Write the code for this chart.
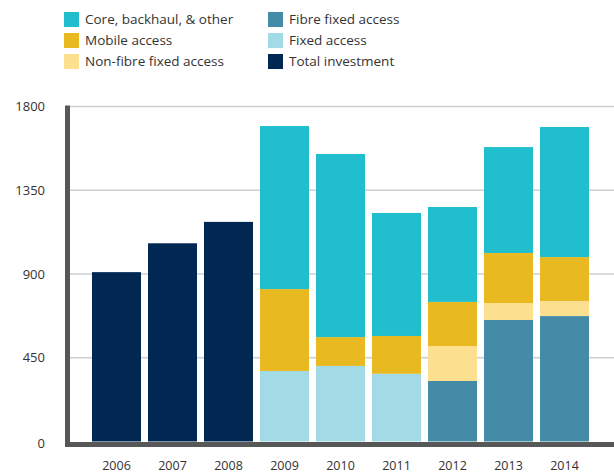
<!DOCTYPE html>
<html>
<head>
<meta charset="utf-8">
<script src="https://cdn.jsdelivr.net/npm/d3@7"></script>
<style>
  body { margin: 0; background: #fff; }
  svg text { font-family: "Open Sans", Roboto, sans-serif; fill: #333; }
</style>
</head>
<body>
<svg></svg>
<script>
// chart data
var years = ['2006', '2007', '2008', '2009', '2010', '2011', '2012', '2013', '2014'];
var total_investment = [910, 1065, 1180, 0, 0, 0, 0, 0, 0];
var fixed_access = [0, 0, 0, 379, 406, 364, 0, 0, 0];
var fibre_fixed_access = [0, 0, 0, 0, 0, 0, 325, 653, 674];
var non_fibre_fixed_access = [0, 0, 0, 0, 0, 0, 188, 91, 81];
var mobile_access = [0, 0, 0, 440, 155, 203, 237, 269, 236];
var core_backhaul_other = [0, 0, 0, 876, 984, 661, 510, 569, 699];
var y_ticks = [0, 450, 900, 1350, 1800];

var series = [
  { key: 'total', name: 'Total investment', values: total_investment, color: '#002852' },
  { key: 'fixed', name: 'Fixed access', values: fixed_access, color: '#a2dbe5' },
  { key: 'fibre', name: 'Fibre fixed access', values: fibre_fixed_access, color: '#438ba7' },
  { key: 'nonfibre', name: 'Non-fibre fixed access', values: non_fibre_fixed_access, color: '#fde08f' },
  { key: 'mobile', name: 'Mobile access', values: mobile_access, color: '#e8b920' },
  { key: 'core', name: 'Core, backhaul, & other', values: core_backhaul_other, color: '#21bece' }
];

// legend order in two columns
var legend_items = ['core', 'mobile', 'nonfibre', 'fibre', 'fixed', 'total'];

var svg_width = 614,
  svg_height = 474;

var svg = d3
  .select('svg')
  .attr('width', svg_width)
  .attr('height', svg_height);

var rows = years.map(function(y, i) {
  var row = { year: y };
  series.forEach(function(s) {
    row[s.key] = s.values[i];
  });
  return row;
});

var stack = d3.stack().keys(series.map(function(s) { return s.key; }));
var stacked = stack(rows);

var x = d3
  .scaleBand()
  .domain(years)
  .range([88.5, 592.5])
  .paddingInner(0.125)
  .paddingOuter(0.0625);

var y = d3
  .scaleLinear()
  .domain([0, 1800])
  .range([441.5, 106.5]);

// gridlines
svg
  .append('g')
  .selectAll('line')
  .data(y_ticks.slice(1))
  .enter()
  .append('line')
  .attr('x1', 70)
  .attr('x2', svg_width)
  .attr('y1', function(d) { return y(d); })
  .attr('y2', function(d) { return y(d); })
  .attr('stroke', '#cfcfcf')
  .attr('stroke-width', 1.5);

// bars
var color_of = {};
series.forEach(function(s) { color_of[s.key] = s.color; });

svg
  .append('g')
  .selectAll('g')
  .data(stacked)
  .enter()
  .append('g')
  .attr('fill', function(d) { return color_of[d.key]; })
  .selectAll('rect')
  .data(function(d) { return d; })
  .enter()
  .filter(function(d) { return d[1] - d[0] > 0; })
  .append('rect')
  .attr('x', function(d) { return x(d.data.year); })
  .attr('width', x.bandwidth())
  .attr('y', function(d) { return y(d[1]); })
  .attr('height', function(d) { return y(d[0]) - y(d[1]); });

// axes lines
svg
  .append('rect')
  .attr('x', 65)
  .attr('y', 105.5)
  .attr('width', 5)
  .attr('height', 341.5)
  .attr('fill', '#575757');

svg
  .append('rect')
  .attr('x', 65)
  .attr('y', 442)
  .attr('width', svg_width - 65)
  .attr('height', 5)
  .attr('fill', '#575757');

// y tick labels
svg
  .append('g')
  .selectAll('text')
  .data(y_ticks)
  .enter()
  .append('text')
  .attr('x', 45)
  .attr('y', function(d) { return y(d) + (d === 0 ? 2 : 0); })
  .attr('dy', '0.35em')
  .attr('text-anchor', 'end')
  .style('font-size', '13px')
  .text(function(d) { return d; });

// x labels
svg
  .append('g')
  .selectAll('text')
  .data(years)
  .enter()
  .append('text')
  .attr('x', function(d) { return x(d) + x.bandwidth() / 2; })
  .attr('y', 470)
  .attr('text-anchor', 'middle')
  .style('font-size', '12.5px')
  .text(function(d) { return d; });

// legend
var legend = svg
  .append('g')
  .selectAll('g')
  .data(legend_items)
  .enter()
  .append('g')
  .attr('transform', function(d, i) {
    var col = Math.floor(i / 3),
      row = i % 3;
    return 'translate(' + (64 + col * 204) + ',' + (12 + row * 21) + ')';
  });

legend
  .append('rect')
  .attr('width', 15)
  .attr('height', 15)
  .attr('fill', function(d) { return color_of[d]; });

legend
  .append('text')
  .attr('x', 21)
  .attr('y', 7.5)
  .attr('dy', '0.35em')
  .style('font-size', '13.5px')
  .text(function(d) {
    return series.filter(function(s) { return s.key === d; })[0].name;
  });
</script>
</body>
</html>
